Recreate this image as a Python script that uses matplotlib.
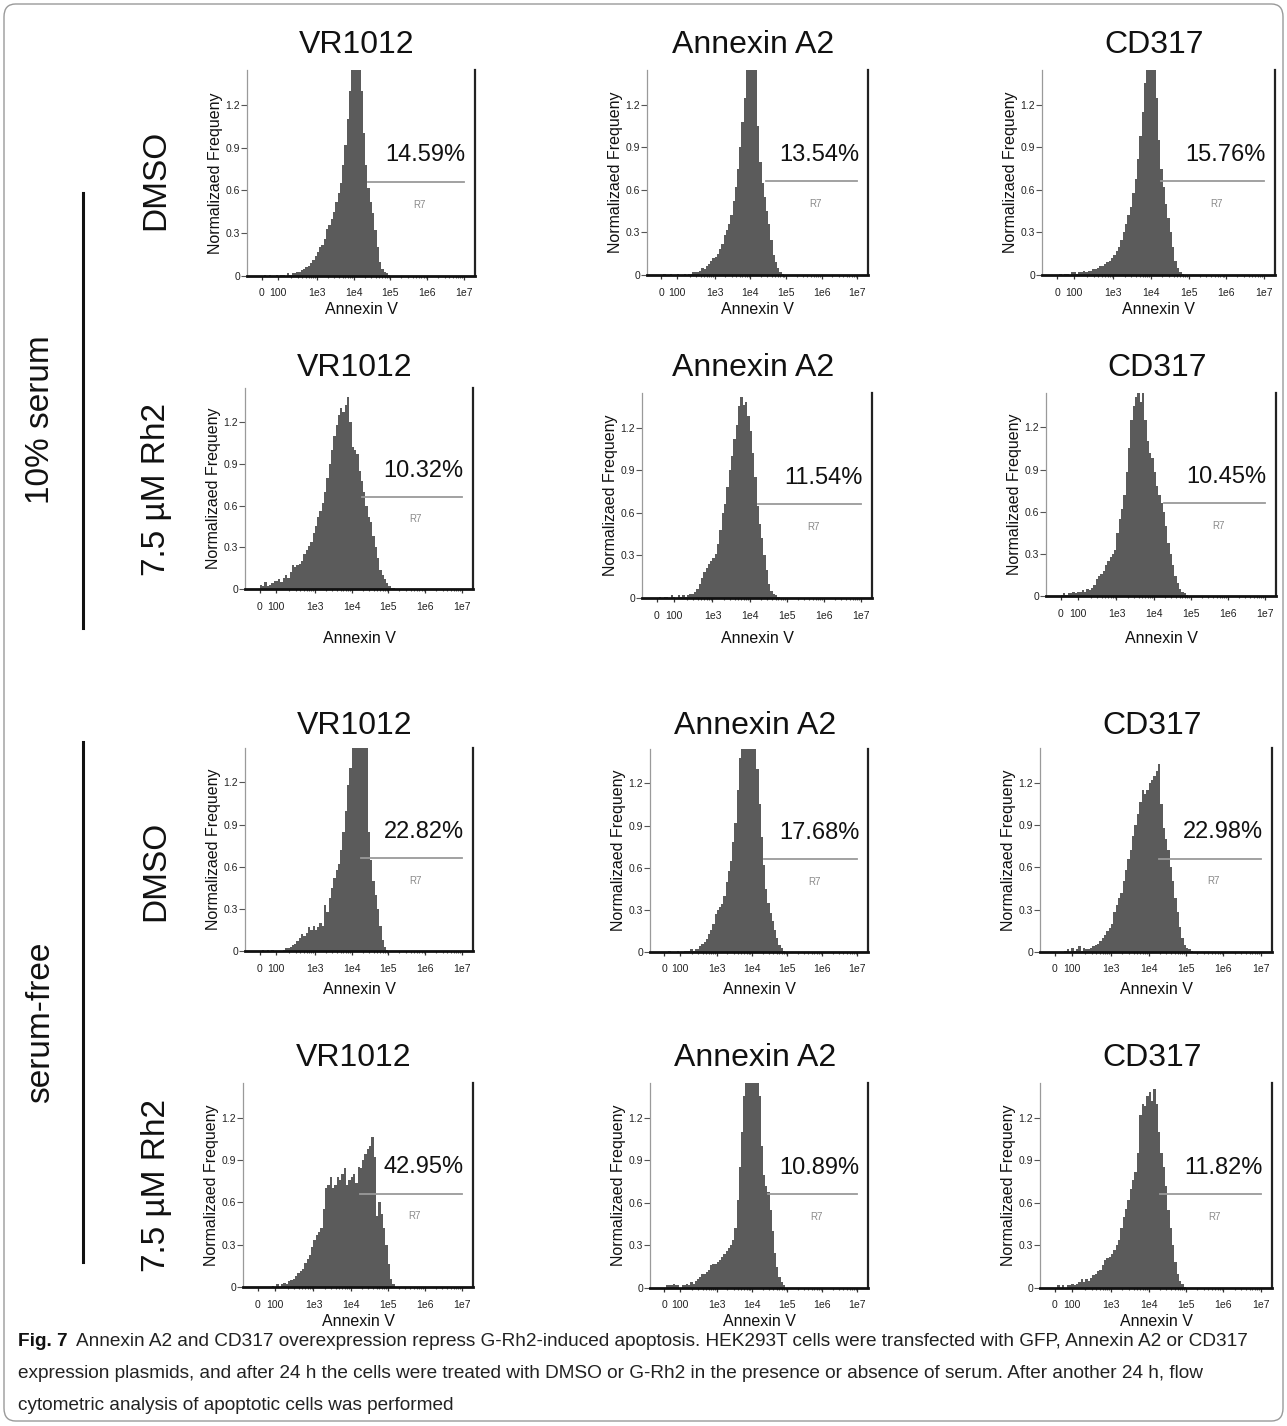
import numpy as np
import matplotlib
matplotlib.use('Agg')
import matplotlib.pyplot as plt
from matplotlib.patches import FancyBboxPatch
from matplotlib.lines import Line2D

plt.rcParams['font.family'] = ['Liberation Sans', 'DejaVu Sans']

# ---------------- data ----------------
BIN_START = 1.5      # histogram bins on the display (decade) scale
BIN_WIDTH = 0.0625

col_titles = ['VR1012', 'Annexin A2', 'CD317']
row_labels = ['DMSO', '7.5 µM Rh2', 'DMSO', '7.5 µM Rh2']
group_labels = ['10% serum', 'serum-free']

percent_labels = [['14.59%', '13.54%', '15.76%'],
                  ['10.32%', '11.54%', '10.45%'],
                  ['22.82%', '17.68%', '22.98%'],
                  ['42.95%', '10.89%', '11.82%']]
gate_starts = [[4.38, 4.43, 4.27],
               [4.27, 4.22, 4.27],
               [4.25, 4.33, 4.27],
               [4.25, 4.45, 4.30]]
gate_end = 7.0
gate_level = 0.66
gate_name = 'R7'

xtick_pos = [1.5, 1.95, 3, 4, 5, 6, 7]
xtick_labels = ['0', '100', '1e3', '1e4', '1e5', '1e6', '1e7']
ytick_vals = [0, 0.3, 0.6, 0.9, 1.2]
ytick_labels = ['0', '0.3', '0.6', '0.9', '1.2']

# 10% serum, DMSO
h_s10_dmso_vr1012 = [0, 0.01, 0, 0.01, 0, 0, 0.01, 0, 0.01, 0.01, 0, 0.02, 0.01, 0.02, 0.02, 0.03,
                     0.03, 0.04, 0.05, 0.06, 0.07, 0.09, 0.11, 0.14,
                     0.17, 0.20, 0.22, 0.26, 0.33, 0.36, 0.40, 0.45,
                     0.52, 0.58, 0.65, 0.78, 0.92, 1.10, 1.30, 1.60,
                     1.60, 1.60, 1.55, 1.30, 1.00, 0.78, 0.62, 0.52,
                     0.44, 0.32, 0.20, 0.10, 0.05, 0.03, 0.02, 0.01]
h_s10_dmso_anxa2 = [0, 0.01, 0, 0, 0.01, 0, 0, 0.01, 0, 0, 0.01, 0, 0.01, 0.01, 0.02, 0.02,
                    0.02, 0.03, 0.05, 0.04, 0.06, 0.08, 0.10, 0.12,
                    0.13, 0.15, 0.18, 0.22, 0.28, 0.32, 0.36, 0.42,
                    0.52, 0.62, 0.75, 0.90, 1.08, 1.25, 1.60, 1.60,
                    1.60, 1.60, 1.45, 1.05, 0.80, 0.65, 0.55, 0.45,
                    0.36, 0.25, 0.14, 0.09, 0.05, 0.02, 0.01, 0]
h_s10_dmso_cd317 = [0, 0.01, 0, 0.01, 0.01, 0, 0.02, 0.02, 0.01, 0.02, 0.02, 0.03, 0.02, 0.03, 0.03, 0.04,
                    0.04, 0.05, 0.06, 0.06, 0.08, 0.09, 0.10, 0.12,
                    0.14, 0.17, 0.20, 0.25, 0.30, 0.36, 0.42, 0.48,
                    0.58, 0.68, 0.82, 0.98, 1.15, 1.35, 1.60, 1.60,
                    1.60, 1.50, 1.25, 0.95, 0.75, 0.62, 0.50, 0.40,
                    0.30, 0.20, 0.10, 0.05, 0.02, 0.01, 0, 0]
# 10% serum, 7.5 uM Rh2
h_s10_rh2_vr1012 = [0.03, 0.02, 0.05, 0.02, 0.03, 0.04, 0.06, 0.06, 0.07, 0.05, 0.08, 0.10, 0.08, 0.12, 0.17, 0.16,
                    0.17, 0.18, 0.20, 0.25, 0.28, 0.31, 0.34, 0.40,
                    0.45, 0.52, 0.56, 0.62, 0.70, 0.80, 0.90, 1.00,
                    1.10, 1.18, 1.25, 1.30, 1.27, 1.32, 1.38, 1.20,
                    1.02, 1.00, 0.97, 0.85, 0.78, 0.70, 0.60, 0.52,
                    0.48, 0.38, 0.30, 0.22, 0.14, 0.10, 0.07, 0.04,
                    0.02, 0.01, 0.01, 0]
h_s10_rh2_anxa2 = [0, 0.01, 0, 0.01, 0.01, 0, 0.02, 0.01, 0, 0.02, 0.01, 0.02, 0.01, 0.02, 0.03, 0.03,
                   0.04, 0.06, 0.10, 0.14, 0.18, 0.21, 0.24, 0.26,
                   0.28, 0.31, 0.38, 0.48, 0.60, 0.66, 0.78, 0.90,
                   1.00, 1.12, 1.22, 1.35, 1.42, 1.36, 1.38, 1.28,
                   1.18, 1.02, 0.85, 0.65, 0.52, 0.42, 0.30, 0.20,
                   0.10, 0.05, 0.03, 0.02, 0.01, 0, 0, 0]
h_s10_rh2_cd317 = [0.01, 0.02, 0.01, 0.02, 0.02, 0.03, 0.02, 0.03, 0.03, 0.04, 0.03, 0.05, 0.04, 0.06, 0.08, 0.12,
                   0.14, 0.16, 0.18, 0.22, 0.25, 0.28, 0.30, 0.33,
                   0.45, 0.55, 0.62, 0.72, 0.88, 1.05, 1.25, 1.35,
                   1.42, 1.45, 1.38, 1.45, 1.25, 1.10, 1.02, 0.98,
                   0.88, 0.78, 0.72, 0.66, 0.60, 0.50, 0.38, 0.30,
                   0.22, 0.14, 0.09, 0.05, 0.03, 0.02, 0.01, 0]
# serum-free, DMSO
h_sf_dmso_vr1012 = [0, 0.01, 0, 0.01, 0, 0.01, 0, 0, 0, 0, 0.01, 0.02, 0.02, 0.03, 0.04, 0.05,
                    0.07, 0.09, 0.12, 0.11, 0.13, 0.17, 0.15, 0.18,
                    0.15, 0.17, 0.20, 0.18, 0.33, 0.28, 0.38, 0.45,
                    0.52, 0.58, 0.62, 0.72, 0.85, 1.00, 1.18, 1.30,
                    1.60, 1.60, 1.60, 1.60, 1.60, 1.60, 1.60, 0.85,
                    0.65, 0.50, 0.40, 0.30, 0.18, 0.08, 0.03, 0.01]
h_sf_dmso_anxa2 = [0, 0, 0.01, 0, 0, 0, 0.01, 0, 0, 0.01, 0.01, 0.01, 0.02, 0.01, 0.02, 0.02,
                   0.04, 0.06, 0.07, 0.09, 0.13, 0.16, 0.20, 0.27,
                   0.30, 0.32, 0.34, 0.40, 0.50, 0.58, 0.65, 0.78,
                   0.92, 1.15, 1.38, 1.60, 1.60, 1.60, 1.60, 1.60,
                   1.60, 1.60, 1.30, 1.05, 0.82, 0.62, 0.45, 0.35,
                   0.28, 0.22, 0.16, 0.10, 0.05, 0.03, 0.01, 0]
h_sf_dmso_cd317 = [0, 0, 0, 0, 0.01, 0.02, 0, 0.03, 0.01, 0.02, 0.04, 0.01, 0.03, 0.02, 0.02, 0.03,
                   0.04, 0.05, 0.06, 0.08, 0.10, 0.12, 0.15, 0.17,
                   0.20, 0.28, 0.33, 0.38, 0.42, 0.50, 0.58, 0.66,
                   0.72, 0.82, 0.90, 0.98, 1.06, 1.15, 1.12, 1.15,
                   1.20, 1.22, 1.25, 1.28, 1.33, 1.05, 0.88, 0.80,
                   0.72, 0.60, 0.50, 0.38, 0.28, 0.18, 0.10, 0.05,
                   0.03, 0.02, 0.01, 0]
# serum-free, 7.5 uM Rh2
h_sf_rh2_vr1012 = [0, 0, 0, 0, 0, 0, 0.01, 0, 0.02, 0, 0.02, 0.03, 0.02, 0.04, 0.05, 0.06,
                   0.08, 0.10, 0.11, 0.13, 0.17, 0.20, 0.23, 0.28,
                   0.33, 0.37, 0.39, 0.42, 0.55, 0.70, 0.72, 0.78,
                   0.70, 0.72, 0.78, 0.76, 0.80, 0.84, 0.72, 0.76,
                   0.78, 0.80, 0.74, 0.85, 0.84, 0.90, 0.94, 0.98,
                   1.00, 1.06, 0.92, 0.50, 0.60, 0.52, 0.42, 0.30,
                   0.16, 0.06, 0.02, 0]
h_sf_rh2_anxa2 = [0, 0.02, 0.02, 0.02, 0.03, 0.02, 0.02, 0, 0.02, 0.02, 0.03, 0.02, 0.04, 0.03, 0.05, 0.06,
                  0.08, 0.10, 0.10, 0.11, 0.13, 0.16, 0.17, 0.17,
                  0.18, 0.20, 0.22, 0.24, 0.26, 0.28, 0.30, 0.34,
                  0.42, 0.62, 0.85, 1.10, 1.35, 1.60, 1.60, 1.60,
                  1.60, 1.60, 1.60, 1.35, 1.00, 0.80, 0.72, 0.68,
                  0.55, 0.40, 0.25, 0.15, 0.08, 0.04, 0.02, 0]
h_sf_rh2_cd317 = [0, 0.02, 0, 0.02, 0, 0.02, 0.02, 0.03, 0.02, 0.03, 0.04, 0.06, 0.04, 0.06, 0.05, 0.07,
                  0.09, 0.10, 0.12, 0.13, 0.16, 0.20, 0.21, 0.22,
                  0.24, 0.27, 0.30, 0.34, 0.42, 0.50, 0.56, 0.62,
                  0.70, 0.76, 0.82, 0.95, 1.22, 1.30, 1.28, 1.35,
                  1.38, 1.32, 1.40, 1.30, 1.10, 0.95, 0.85, 0.72,
                  0.55, 0.42, 0.30, 0.18, 0.10, 0.05, 0.03, 0.01]

histograms = [[h_s10_dmso_vr1012, h_s10_dmso_anxa2, h_s10_dmso_cd317],
              [h_s10_rh2_vr1012, h_s10_rh2_anxa2, h_s10_rh2_cd317],
              [h_sf_dmso_vr1012, h_sf_dmso_anxa2, h_sf_dmso_cd317],
              [h_sf_rh2_vr1012, h_sf_rh2_anxa2, h_sf_rh2_cd317]]

caption_bold = 'Fig. 7'
caption_lines = [
    'Annexin A2 and CD317 overexpression repress G-Rh2-induced apoptosis. HEK293T cells were transfected with GFP, Annexin A2 or CD317',
    'expression plasmids, and after 24 h the cells were treated with DMSO or G-Rh2 in the presence or absence of serum. After another 24 h, flow',
    'cytometric analysis of apoptotic cells was performed',
]

# ---------------- layout (pixels) ----------------
W, H = 1287, 1426
fig = plt.figure(figsize=(W / 100, H / 100), dpi=100)


def fx(x):
    return x / W


def fy(y):
    return 1 - y / H


# (left, right, zero-line y, top y) per panel
rects = [[(247, 475, 276, 70), (647, 868, 275, 70), (1042, 1275, 275, 70)],
         [(245, 473, 589, 388), (642, 872, 598, 393), (1046, 1276, 596, 393)],
         [(245, 473, 951, 748), (650, 868, 952, 749), (1040, 1272, 952, 748)],
         [(243, 473, 1287, 1083), (650, 868, 1288, 1083), (1040, 1272, 1288, 1083)]]
title_y = [45, 368, 726, 1058]
xlabel_y = [310, 638, 990, 1322]

minor_pos = [np.log10(k) + d for d in range(2, 7) for k in range(2, 10)]
bar_color = '#5b5b5b'

for r in range(4):
    for c in range(3):
        L, R, B, T = rects[r][c]
        ax = fig.add_axes([fx(L), fy(B), (R - L) / W, (B - T) / H])
        vals = np.asarray(histograms[r][c], dtype=float)
        edges = BIN_START + BIN_WIDTH * np.arange(len(vals) + 1)
        ax.stairs(vals, edges, fill=True, color=bar_color, lw=0)
        ax.set_xlim(1.1, 7.3)
        ax.set_ylim(0, 1.445)
        ax.spines['top'].set_visible(False)
        ax.spines['left'].set_color('#9a9a9a')
        ax.spines['left'].set_linewidth(0.9)
        ax.spines['right'].set_color('#222222')
        ax.spines['right'].set_linewidth(1.6)
        ax.spines['bottom'].set_color('#111111')
        ax.spines['bottom'].set_linewidth(2.0)
        ax.set_yticks(ytick_vals)
        ax.set_yticklabels(ytick_labels)
        ax.set_xticks(xtick_pos)
        ax.set_xticklabels(xtick_labels)
        ax.set_xticks(minor_pos, minor=True)
        ax.tick_params(axis='y', direction='out', length=4, width=0.8,
                       color='#555555', labelsize=7.5, pad=1, labelcolor='#222222')
        ax.tick_params(axis='x', which='major', direction='out', length=3, width=0.9,
                       color='#333333', labelsize=7.5, pad=6, labelcolor='#222222')
        ax.tick_params(axis='x', which='minor', direction='out', length=1.5, width=0.8,
                       color='#555555')
        ax.set_ylabel('Normalizaed Frequeny', fontsize=11.5, labelpad=2, color='#111111')
        xl = ax.set_xlabel('Annexin V', fontsize=11.5, color='#111111')
        xl.set_verticalalignment('center')
        ax.xaxis.set_label_coords(0.5, (B - xlabel_y[r]) / (B - T))
        # gate
        g0 = gate_starts[r][c]
        ax.plot([g0, gate_end], [gate_level, gate_level], color='#9a9a9a', lw=1.3)
        ax.text(gate_end + 0.05, gate_level + 0.11, percent_labels[r][c], ha='right',
                va='bottom', fontsize=17, color='#111111')
        ax.text((g0 + gate_end) / 2 + 0.1, gate_level - 0.16, gate_name, ha='center',
                va='center', fontsize=7, color='#8a8a8a')
        # column title
        fig.text(fx((L + R) / 2 - 4), fy(title_y[r]), col_titles[c], ha='center', va='center',
                 fontsize=23, color='#111111')

# row labels
row_label_y = [180, 490, 871, 1186]
for lab, yy in zip(row_labels, row_label_y):
    fig.text(fx(156), fy(yy), lab, rotation=90, ha='center', va='center',
             fontsize=24, color='#111111')

# group labels and bars
group_y = [420, 1022]
group_lines = [(193, 628), (742, 1262)]
for lab, yy, (y0, y1) in zip(group_labels, group_y, group_lines):
    fig.text(fx(41), fy(yy), lab, rotation=90, ha='center', va='center',
             fontsize=24, color='#111111')
    fig.add_artist(Line2D([fx(83), fx(83)], [fy(y0), fy(y1)], color='#111111', lw=2.2))

# border
fig.add_artist(FancyBboxPatch((fx(4), fy(1421)), (1279) / W, (1417) / H,
                              boxstyle='round,pad=0,rounding_size=0.009',
                              transform=fig.transFigure, fill=False,
                              edgecolor='#9a9a9a', lw=1.0))

# caption
cap_font = ['Liberation Sans Narrow', 'Liberation Sans', 'DejaVu Sans']
fig.canvas.draw()
renderer = fig.canvas.get_renderer()
probe = fig.text(0, 0, caption_lines[1], fontsize=10, family=cap_font)
wpx = probe.get_window_extent(renderer).width
probe.remove()
cap_size = 10 * (1213 - 18) / wpx
cap_y = [1342, 1374, 1406]
bold = fig.text(fx(18), fy(cap_y[0]), caption_bold, fontsize=cap_size, family=cap_font,
                weight='bold', va='center', ha='left', color='#111111')
bw = bold.get_window_extent(renderer).width
fig.text(fx(18 + bw + 8), fy(cap_y[0]), caption_lines[0], fontsize=cap_size, family=cap_font,
         va='center', ha='left', color='#222222')
fig.text(fx(18), fy(cap_y[1]), caption_lines[1], fontsize=cap_size, family=cap_font,
         va='center', ha='left', color='#222222')
fig.text(fx(18), fy(cap_y[2]), caption_lines[2], fontsize=cap_size, family=cap_font,
         va='center', ha='left', color='#222222')

fig.savefig('out.png', dpi=100, facecolor='white')
